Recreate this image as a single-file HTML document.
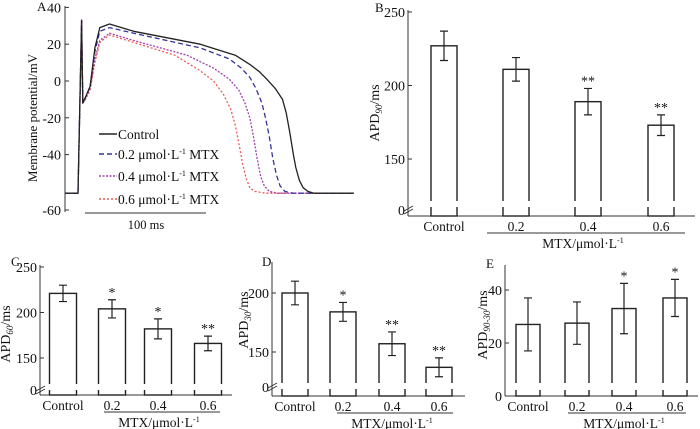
<!DOCTYPE html>
<html><head><meta charset="utf-8"><style>
body{margin:0;background:#fff}
svg{display:block;font-family:"Liberation Serif",serif}
</style></head><body>
<svg id="c" width="700" height="429" viewBox="0 0 700 429"></svg>
<script>
// ---- Panel A data (time ms, membrane potential mV) ----
const ctrlT=[-11,0,3,4,6,10,14,18,26,46,101,130,142,150,156,163,169,172,175,178,180,183,186,190,195,228];
const ctrlV=[-61,-61,33,-12,-9,-3,18,29,31,27,20,14,9,5,1,-4,-10,-17,-28,-40,-47,-54,-58,-60,-61,-61];
const m02T=[-11,0,3,4,6,10,14,18,26,46,101,125,135,142,147,152,155,158,161,164,167,171,178,228];
const m02V=[-61,-61,33,-12,-9,-3,16,27,29,26,18,12,7,2,-4,-12,-20,-30,-42,-51,-57,-60,-61,-61];
const m04T=[-11,0,3,4,6,10,14,18,26,46,90,112,125,133,138,142,145,148,151,154,158,165,228];
const m04V=[-61,-61,33,-12,-10,-4,12,22,26,22,14,7,1,-5,-12,-20,-30,-42,-52,-57,-60,-61,-61];
const m06T=[-11,0,3,4,6,10,14,18,26,46,80,100,112,120,126,130,133,136,139,142,146,155,228];
const m06V=[-61,-61,33,-12,-10,-5,10,21,25,21,14,6,0,-7,-15,-24,-34,-45,-53,-58,-60,-61,-61];
const aTicks=[40,20,0,-20,-40];
// ---- Bar panels data ----
const categories=["Control","0.2","0.4","0.6"];
const apd90=[227,211,189,173], apd90Err=[10,8,9,7], apd90Sig=["","","**","**"];
const apd60=[221,204,182,166], apd60Err=[9,10,11,8], apd60Sig=["","*","*","**"];
const apd30=[200,184,157,137], apd30Err=[10,8,10,8], apd30Sig=["","*","**","**"];
const apd9030=[27,27.5,33,37], apd9030Err=[10,8,9.5,7], apd9030Sig=["","","*","*"];
const bTicks=[250,200,150], cTicks=[250,200,150], dTicks=[200,150], eTicks=[40,20,0];

const svg=document.getElementById('c');
const NS="http://www.w3.org/2000/svg";
function el(tag,attrs,parent){const e=document.createElementNS(NS,tag);for(const k in attrs)e.setAttribute(k,attrs[k]);(parent||svg).appendChild(e);return e;}
function txt(s,x,y,size,anchor,parent){const t=el('text',{x:x,y:y,'font-size':size,'text-anchor':anchor||'middle',fill:'#111'},parent);t.textContent=s;return t;}

// ===== Panel A =====
const gA=el('g',{});


const ax=t=>78+t*1.21, ay=v=>81-v*1.84;
const axA=el('line',{x1:65,y1:6,x2:65,y2:212,stroke:'#333','stroke-width':1},gA);


aTicks.forEach(v=>{el('line',{x1:65,y1:ay(v),x2:69,y2:ay(v),stroke:'#333'},gA);
 const t=txt(String(v),61,ay(v)+5,14,'end',gA);
 
 });
el('line',{x1:65,y1:210,x2:69,y2:210,stroke:'#333'},gA);
const t60=txt("-60",61,215,14,'end',gA);


const la=txt("A",37,11,13,'start',gA);


const ytA=txt("Membrane potential/mV",0,0,13,'middle',gA);
ytA.setAttribute('transform','translate(37,118) rotate(-90)');


const series=[[ctrlT,ctrlV,'#222','none',1.3,'trace-control'],[m02T,m02V,'#33339a','5,3',1.3,'trace-0.2'],[m04T,m04V,'#a040b0','2,1.5',1.3,'trace-0.4'],[m06T,m06V,'#f05a50','2,2',1.3,'trace-0.6']];
series.slice().reverse().forEach(s=>{
 const d=s[0].map((t,i)=>(i?'L':'M')+ax(t).toFixed(1)+','+ay(s[1][i]).toFixed(1)).join('');
 const p=el('path',{d:d,fill:'none',stroke:s[2],'stroke-width':s[4],'stroke-dasharray':s[3],'stroke-linejoin':'round'},gA);
 
 
});
const legLabels=["Control","0.2 μmol·L","0.4 μmol·L","0.6 μmol·L"];
[139,159,181,204].forEach((y,i)=>{
 const s=series[i];
 el('line',{x1:99,y1:y-5,x2:117,y2:y-5,stroke:s[2],'stroke-width':1.5,'stroke-dasharray':s[3]},gA);
 const t=txt(legLabels[i],118,y,13.5,'start',gA);
 if(i>0){const sp=el('tspan',{dy:-5,'font-size':8},t);sp.textContent='-1';const sp2=el('tspan',{dy:5},t);sp2.textContent=' MTX';}
 
 
});
el('line',{x1:85,y1:213,x2:206,y2:213,stroke:'#333'},gA);
const sb=txt("100 ms",146,229,12.5,'middle',gA);



// ===== Bar panels =====
function barPanel(o){
 const g=el('g',{});
 
 
 const y=v=>o.y0-(v-o.v0)*o.k;
 const yl=el('line',{x1:o.ax,y1:o.top,x2:o.ax,y2:o.base,stroke:'#333'},g);
 
 
 const xl=el('line',{x1:o.ax,y1:o.base,x2:o.right,y2:o.base,stroke:'#333'},g);
 
 
 o.ticks.forEach(v=>{el('line',{x1:o.ax,y1:y(v),x2:o.ax+4,y2:y(v),stroke:'#333'},g);
  const t=txt(String(v),o.ax-3,y(v)+5,14,'end',g);
  
  });
 if(o.zero){const t=txt("0",o.ax-3,o.zeroY+5,14,'end',g);
  
  
  el('path',{d:`M${o.ax-4},${o.zeroY+1}L${o.ax+5},${o.zeroY-4}M${o.ax-4},${o.zeroY+4}L${o.ax+5},${o.zeroY-1}`,stroke:'#333',fill:'none'},g);}
 o.vals.forEach((v,i)=>{
  const cx=o.xs[i],w=o.bw,yt=y(v);
  const r=el('rect',{x:cx-w/2,y:yt,width:w,height:o.base-yt,fill:'#fff',stroke:'#222','stroke-width':1.4},g);
  
  
  el('rect',{x:cx-w/2-2,y:o.gap[0],width:w+4,height:o.gap[1]-o.gap[0],fill:'#fff'},g);
  el('rect',{x:cx-w/2+1,y:o.gap[0]-2,width:w-2,height:o.base-o.gap[0]+1,fill:'#fff'},g);
  const e=o.errs[i],et=y(v+e),eb=y(v-e);
  const eb1=el('path',{d:`M${cx},${et}L${cx},${eb}M${cx-4},${et}L${cx+4},${et}M${cx-4},${eb}L${cx+4},${eb}`,stroke:'#222','stroke-width':1.2,fill:'none'},g);
  
  
  if(o.sig[i]){const s=txt(o.sig[i],cx,et-3,14,'middle',g);
   
   }
  const c=txt(categories[i],cx,o.base+15,13.5,'middle',g);
  
  
 });
 el('line',{x1:o.ul[0],y1:o.base+17,x2:o.ul[1],y2:o.base+17,stroke:'#333'},g);
 const xt=txt("MTX/μmol·L",(o.ul[0]+o.ul[1])/2-3,o.base+32,13.5,'middle',g);
 const sp=el('tspan',{dy:-5,'font-size':8},xt);sp.textContent='-1';
 
 
 const L=txt(o.letter,o.lx,o.ly,13,'start',g);
 
 
 const yt=txt("APD",0,0,14,'middle',g);
 const sub=el('tspan',{dy:3,'font-size':9,'font-style':'italic'},yt);sub.textContent=o.sub;
 const r2=el('tspan',{dy:-3},yt);r2.textContent='/ms';
 yt.setAttribute('transform',`translate(${o.tx},${o.ty}) rotate(-90)`);
 
 
}
barPanel({name:'panel-b-apd90',ax:408,top:10,base:216,right:695,y0:12,v0:250,k:73.5/50,ticks:bTicks,zero:true,zeroY:210,
 vals:apd90,errs:apd90Err,sig:apd90Sig,xs:[444,516,588,661],bw:26,gap:[201,207],ul:[487,685],letter:'B',lx:375,ly:12,sub:'90',tx:379,ty:113});
barPanel({name:'panel-c-apd60',ax:40,top:265,base:395,right:232,y0:267,v0:250,k:45.5/50,ticks:cTicks,zero:true,zeroY:390,
 vals:apd60,errs:apd60Err,sig:apd60Sig,xs:[63,112,158,208],bw:27,gap:[384,390],ul:[104,220],letter:'C',lx:11,ly:266,sub:'60',tx:10,ty:334});
barPanel({name:'panel-d-apd30',ax:272,top:262,base:396,right:465,y0:293,v0:200,k:59/50,ticks:dTicks,zero:true,zeroY:387,
 vals:apd30,errs:apd30Err,sig:apd30Sig,xs:[295,343,392,439],bw:26,gap:[383,389],ul:[337,453],letter:'D',lx:262,ly:266,sub:'30',tx:248,ty:320});
barPanel({name:'panel-e-apd90-30',ax:505,top:265,base:396,right:698,y0:396,v0:0,k:53/20,ticks:eTicks,zero:false,zeroY:396,
 vals:apd9030,errs:apd9030Err,sig:apd9030Sig,xs:[528,577,624,675],bw:24,gap:[383,390],ul:[568,686],letter:'E',lx:486,ly:268,sub:'90-30',tx:487,ty:325});
</script>
</body></html>
